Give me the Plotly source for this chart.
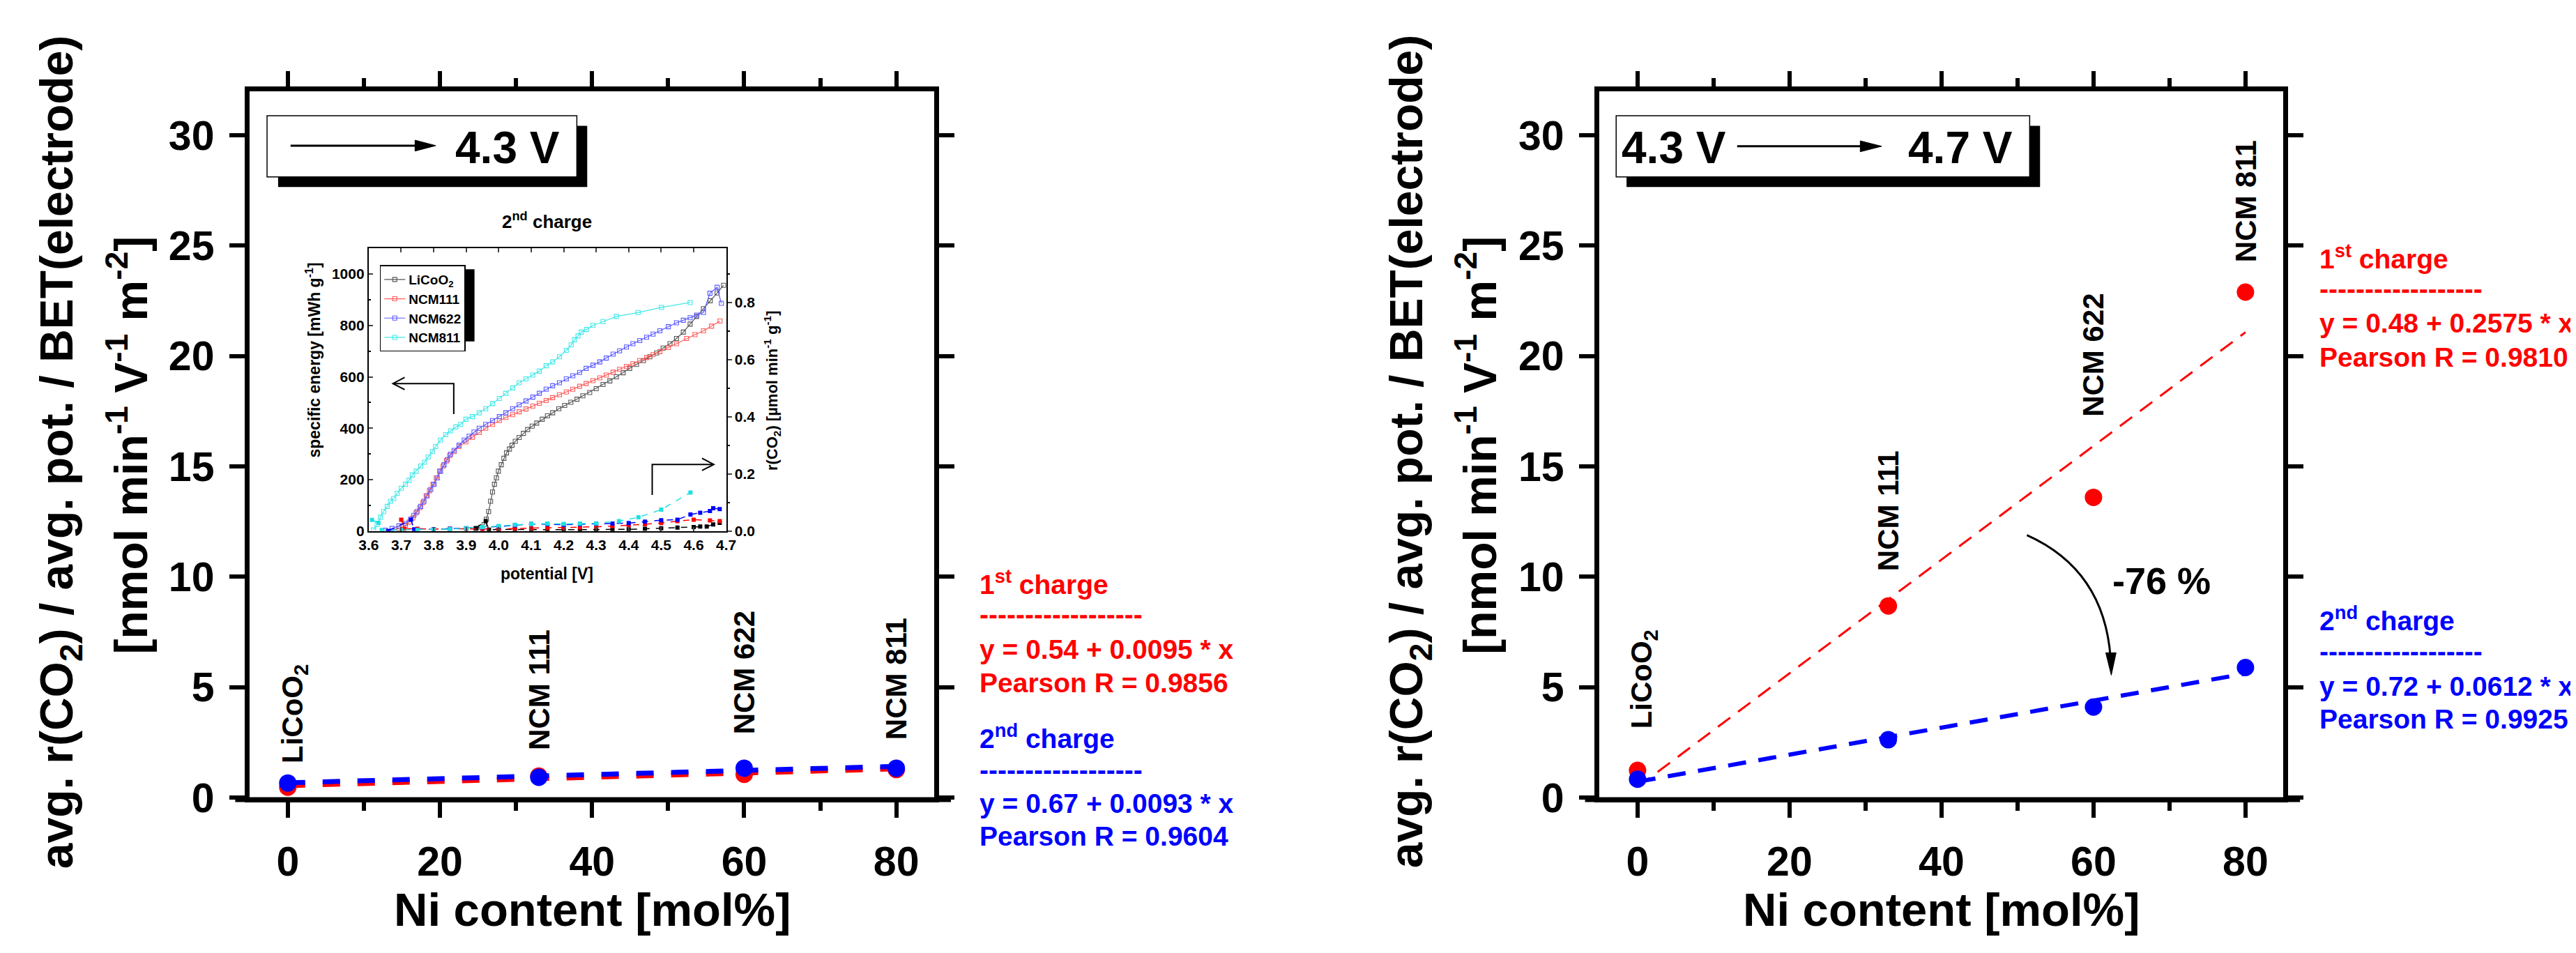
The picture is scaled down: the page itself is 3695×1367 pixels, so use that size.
import plotly.graph_objects as go

W, H = 3695, 1367
FONT = "Liberation Sans, Arial, sans-serif"

# ---------------- main data ----------------
ni_content = [0, 33, 60, 80]
material_labels = ["LiCoO<sub>2</sub>", "NCM 111", "NCM 622", "NCM 811"]

# panel A: OCV -> 4.3 V
a_first = [0.47, 0.97, 1.05, 1.27]
a_second = [0.66, 0.92, 1.33, 1.33]
a_fit_first = (0.54, 0.0095, 0.9856)
a_fit_second = (0.67, 0.0093, 0.9604)

# panel B: 4.3 V -> 4.7 V
b_first = [1.23, 8.68, 13.6, 22.9]
b_second = [0.83, 2.62, 4.10, 5.89]
b_fit_first = (0.48, 0.2575, 0.9810)
b_fit_second = (0.72, 0.0612, 0.9925)

fit_x = [0, 80]

# ---------------- inset data (2nd charge) ----------------
licoo2_V = [3.930, 3.945, 3.955, 3.962, 3.969, 3.975, 3.981, 3.987, 3.993, 3.999, 4.008, 4.016, 4.024,
            4.033, 4.041, 4.051, 4.063, 4.076, 4.089, 4.103, 4.117, 4.134, 4.150, 4.166, 4.185, 4.203,
            4.222, 4.241, 4.259, 4.280, 4.300, 4.321, 4.342, 4.362, 4.383, 4.403, 4.424, 4.445, 4.465,
            4.486, 4.506, 4.527, 4.547, 4.568, 4.589, 4.609, 4.630, 4.651, 4.672, 4.692]
licoo2_E = [10, 15, 25, 46, 76, 116, 152, 182, 207, 233, 258, 283, 304,
            319, 334, 349, 364, 380, 395, 408, 420, 435, 448, 460, 476, 489,
            501, 513, 526, 539, 554, 570, 584, 600, 616, 633, 648, 663, 678,
            693, 712, 729, 749, 774, 805, 835, 865, 896, 926, 956]

ncm111_V = [3.651, 3.693, 3.713, 3.725, 3.736, 3.746, 3.757, 3.767, 3.777, 3.787, 3.798, 3.808, 3.818,
            3.829, 3.839, 3.849, 3.863, 3.878, 3.899, 3.919, 3.940, 3.960, 3.981, 4.002, 4.022, 4.043,
            4.063, 4.084, 4.105, 4.125, 4.146, 4.166, 4.187, 4.208, 4.228, 4.249, 4.269, 4.290, 4.311,
            4.331, 4.352, 4.372, 4.393, 4.413, 4.434, 4.455, 4.475, 4.496, 4.522, 4.547, 4.578, 4.604,
            4.630, 4.655, 4.681]
ncm111_E = [3, 10, 20, 35, 51, 71, 91, 111, 137, 157, 182, 207, 233,
            253, 273, 294, 309, 329, 347, 365, 383, 400, 415, 430, 442, 453,
            464, 475, 486, 497, 508, 519, 530, 541, 552, 563, 574, 585, 596,
            607, 618, 629, 640, 651, 663, 675, 686, 698, 714, 729, 749, 764,
            779, 797, 817]

ncm622_V = [3.651, 3.672, 3.693, 3.713, 3.729, 3.739, 3.749, 3.760, 3.770, 3.780, 3.791, 3.801, 3.811,
            3.821, 3.832, 3.842, 3.852, 3.863, 3.878, 3.894, 3.909, 3.924, 3.940, 3.960, 3.981, 4.002,
            4.022, 4.043, 4.063, 4.084, 4.105, 4.125, 4.146, 4.166, 4.187, 4.208, 4.228, 4.249, 4.269,
            4.290, 4.311, 4.331, 4.352, 4.372, 4.393, 4.413, 4.434, 4.455, 4.475, 4.496, 4.522, 4.547,
            4.568, 4.589, 4.609, 4.630, 4.650, 4.672, 4.685]
ncm622_E = [3, 10, 20, 30, 46, 61, 76, 96, 116, 137, 162, 182, 207,
            233, 258, 278, 299, 314, 334, 354, 369, 385, 400, 415, 430, 445,
            460, 476, 491, 506, 521, 536, 552, 565, 577, 592, 604, 617, 633,
            645, 658, 673, 688, 701, 716, 729, 741, 754, 766, 779, 795, 810,
            820, 830, 840, 850, 925, 948, 886]

ncm811_V = [3.615, 3.626, 3.636, 3.646, 3.657, 3.667, 3.677, 3.688, 3.700, 3.713, 3.724, 3.734, 3.746,
            3.760, 3.772, 3.783, 3.796, 3.806, 3.821, 3.837, 3.852, 3.868, 3.883, 3.899, 3.919, 3.940,
            3.960, 3.981, 4.002, 4.022, 4.043, 4.063, 4.084, 4.105, 4.125, 4.146, 4.166, 4.187, 4.208,
            4.223, 4.233, 4.244, 4.254, 4.270, 4.290, 4.321, 4.362, 4.429, 4.501, 4.589]
ncm811_E = [5, 25, 54, 76, 96, 116, 127, 147, 167, 182, 197, 218, 233,
            253, 268, 288, 309, 329, 354, 375, 390, 405, 415, 435, 445, 460,
            476, 496, 516, 536, 557, 577, 592, 607, 622, 643, 658, 678, 703,
            724, 744, 759, 774, 784, 800, 815, 835, 850, 870, 889]

licoo2_rV = [3.93, 3.96, 3.97, 4.00, 4.05, 4.10, 4.15, 4.20, 4.25, 4.30, 4.35, 4.40, 4.45, 4.50, 4.55,
             4.60, 4.62, 4.64, 4.66, 4.68]
licoo2_r = [0.010, 0.035, 0.005, 0.006, 0.006, 0.005, 0.005, 0.004, 0.005, 0.005, 0.006, 0.006, 0.008,
            0.010, 0.012, 0.014, 0.016, 0.016, 0.023, 0.029]
ncm111_rV = [3.70, 3.71, 3.75, 3.80, 3.85, 3.90, 3.95, 4.00, 4.05, 4.10, 4.15, 4.20, 4.25, 4.30, 4.35,
             4.40, 4.45, 4.50, 4.55, 4.60, 4.65, 4.68]
ncm111_r = [0.040, 0.008, 0.008, 0.007, 0.008, 0.008, 0.007, 0.007, 0.009, 0.010, 0.011, 0.012, 0.013,
            0.015, 0.017, 0.020, 0.024, 0.028, 0.035, 0.040, 0.037, 0.035]
ncm622_rV = [3.66, 3.73, 3.74, 3.80, 3.85, 3.90, 3.95, 4.00, 4.05, 4.10, 4.15, 4.20, 4.25, 4.30, 4.35,
             4.40, 4.45, 4.50, 4.55, 4.59, 4.62, 4.65, 4.66, 4.68]
ncm622_r = [0.000, 0.040, 0.006, 0.006, 0.008, 0.010, 0.013, 0.016, 0.020, 0.025, 0.024, 0.022, 0.024,
            0.025, 0.026, 0.028, 0.033, 0.038, 0.040, 0.058, 0.064, 0.070, 0.080, 0.077]
ncm811_rV = [3.61, 3.63, 3.64, 3.70, 3.75, 3.80, 3.85, 3.90, 3.95, 4.00, 4.05, 4.10, 4.15, 4.20, 4.25,
             4.30, 4.37, 4.43, 4.50, 4.59]
ncm811_r = [0.039, 0.029, 0.003, 0.004, 0.004, 0.005, 0.007, 0.010, 0.014, 0.018, 0.022, 0.025, 0.026,
            0.025, 0.026, 0.027, 0.035, 0.048, 0.075, 0.135]

inset_series = [
    ("LiCoO<sub>2</sub>", licoo2_V, licoo2_E, licoo2_rV, licoo2_r, "#555555", "#000000"),
    ("NCM111", ncm111_V, ncm111_E, ncm111_rV, ncm111_r, "#ff5a5a", "#ff0000"),
    ("NCM622", ncm622_V, ncm622_E, ncm622_rV, ncm622_r, "#5a5aff", "#0000ff"),
    ("NCM811", ncm811_V, ncm811_E, ncm811_rV, ncm811_r, "#40e8e8", "#20e0e0"),
]

# ---------------- layout helpers ----------------
def px(x):
    return x / W


def py(y):
    return 1 - y / H


RED = "#ff0000"
BLUE = "#0000ff"

fig = go.Figure()

# ---- main panels ----
panels = [
    ("x", "y", a_first, a_second, a_fit_first, a_fit_second,
     dict(width=7, dash="25px,25px"), dict(width=7, dash="25px,25px")),
    ("x2", "y2", b_first, b_second, b_fit_first, b_fit_second,
     dict(width=3, dash="22px,14px"), dict(width=6, dash="26px,18px")),
]
for xa, ya, first, second, ff, fs, lr, lb in panels:
    fig.add_trace(go.Scatter(x=fit_x, y=[ff[0] + ff[1] * v for v in fit_x], mode="lines",
                             line=dict(color=RED, **lr),
                             xaxis=xa, yaxis=ya, showlegend=False))
    fig.add_trace(go.Scatter(x=ni_content, y=first, mode="markers",
                             marker=dict(color=RED, size=25, line=dict(width=0)),
                             xaxis=xa, yaxis=ya, showlegend=False))
    fig.add_trace(go.Scatter(x=ni_content, y=second, mode="markers",
                             marker=dict(color=BLUE, size=25, line=dict(width=0)),
                             xaxis=xa, yaxis=ya, showlegend=False))
    fig.add_trace(go.Scatter(x=fit_x, y=[fs[0] + fs[1] * v for v in fit_x], mode="lines",
                             line=dict(color=BLUE, **lb),
                             xaxis=xa, yaxis=ya, showlegend=False))

# ---- inset ----
for name, V, E, rV, r, c_e, c_r in inset_series:
    fig.add_trace(go.Scatter(x=V, y=E, mode="lines+markers", name=name,
                             line=dict(color=c_e, width=1.2),
                             marker=dict(symbol="square-open", size=6, color=c_e, line=dict(width=1.1)),
                             xaxis="x3", yaxis="y3", showlegend=True))
for name, V, E, rV, r, c_e, c_r in inset_series:
    fig.add_trace(go.Scatter(x=rV, y=r, mode="lines+markers", name=name,
                             line=dict(color=c_r, width=1.5, dash="dash"),
                             marker=dict(symbol="square", size=6, color=c_r),
                             xaxis="x3", yaxis="y4", showlegend=False))

y_dom = [py(1165), py(126)]
main_ax = dict(showline=True, linecolor="black", linewidth=7, mirror="allticks",
               ticks="outside", ticklen=22, tickwidth=6, tickcolor="black",
               showgrid=False, zeroline=False,
               tickfont=dict(family=FONT, size=59, color="black", weight="bold"))
xmain = dict(main_ax, range=[-5, 85], tick0=0, dtick=20, ticklabelstandoff=12,
             minor=dict(dtick=10, tick0=0, ticks="outside", ticklen=12, tickwidth=6, tickcolor="black"))
ymain = dict(main_ax, range=[0, 32], tick0=0, dtick=5, ticklabelstandoff=10)

inset_font = dict(family=FONT, size=21, color="black", weight="bold")
fig.update_layout(
    width=W, height=H, margin=dict(l=0, r=0, t=0, b=0),
    paper_bgcolor="white", plot_bgcolor="white",
    xaxis=dict(xmain, domain=[px(338), px(1328)], anchor="y"),
    yaxis=dict(ymain, domain=y_dom, anchor="x"),
    xaxis2=dict(xmain, domain=[px(2290), px(3279)], anchor="y2"),
    yaxis2=dict(ymain, domain=y_dom, anchor="x2"),
    xaxis3=dict(domain=[px(510), px(1027)], anchor="y3", range=[3.6, 4.7], tick0=3.6, dtick=0.1,
                tickformat=".1f", showline=True, linecolor="black", linewidth=2, mirror="ticks",
                ticks="inside", ticklen=6, tickwidth=1.5, showgrid=False, zeroline=False,
                tickfont=inset_font),
    yaxis3=dict(domain=[py(773), py(357)], anchor="x3", range=[0, 1100], tick0=0, dtick=200,
                showline=True, linecolor="black", linewidth=2, ticks="inside", ticklen=6,
                tickwidth=1.5, showgrid=False, zeroline=False, tickfont=inset_font,
                minor=dict(dtick=100, ticks="inside", ticklen=3, tickcolor="black")),
    yaxis4=dict(overlaying="y3", side="right", anchor="x3", range=[0, 0.99], tick0=0, dtick=0.2,
                tickformat=".1f", showline=True, linecolor="black", linewidth=2, ticks="outside",
                ticklen=6, tickwidth=1.5, showgrid=False, zeroline=False, tickfont=inset_font,
                minor=dict(dtick=0.1, ticks="outside", ticklen=3, tickcolor="black")),
    legend=dict(x=px(526), y=py(382), xanchor="left", yanchor="top", bgcolor="white",
                bordercolor="black", borderwidth=1.5, tracegroupgap=0, itemwidth=30,
                font=dict(family=FONT, size=19, color="black", weight="bold")),
)

ann = []


def text(x, y, s, size, color="black", xanchor="center", yanchor="middle", angle=0,
         xref="paper", yref="paper", xshift=0):
    ann.append(dict(x=x, y=y, xref=xref, yref=yref, text=s, showarrow=False, textangle=angle,
                    xanchor=xanchor, yanchor=yanchor, xshift=xshift,
                    font=dict(family=FONT, size=size, color=color, weight="bold")))


# y-axis titles
for c1, c2 in [(63, 161), (2015, 2112)]:
    text(px(c1), py(656), "avg. r(CO<sub>2</sub>) / avg. pot. / BET(electrode)", 66, angle=-90)
    text(px(c2), py(647), "[nmol min<sup>-1</sup> V<sup>-1</sup> m<sup>-2</sup>]", 66, angle=-90)
# x-axis titles
for cx in [833, 2784]:
    text(px(cx), py(1330), "Ni content [mol%]", 67)

# material labels
label_bottom_a = [1.48, 2.1, 2.8, 2.56]
label_bottom_b = [3.05, 10.2, 17.2, 24.2]
label_shift = [9, 0, 0, 0]
for xr, yr, bottoms in [("x", "y", label_bottom_a), ("x2", "y2", label_bottom_b)]:
    for xv, lab, yb, sh in zip(ni_content, material_labels, bottoms, label_shift):
        text(xv, yb, lab, 42, xanchor="center", yanchor="bottom", angle=-90, xref=xr, yref=yr,
             xshift=sh)


# fit result texts
def fit_block(x0, ys, ordinal, fit, color):
    text(px(x0), py(ys[0]), ordinal + " charge", 39, color, xanchor="left")
    text(px(x0), py(ys[1]), "-" * 18, 39, color, xanchor="left")
    text(px(x0), py(ys[2]), f"y = {fit[0]:.2f} + {fit[1]:g} * x", 39, color, xanchor="left")
    text(px(x0), py(ys[3]), f"Pearson R = {fit[2]:.4f}", 39, color, xanchor="left")


fit_block(1391, [849, 896, 947, 996], "1<sup>st</sup>", a_fit_first, RED)
fit_block(1391, [1075, 1124, 1174, 1222], "2<sup>nd</sup>", a_fit_second, BLUE)
fit_block(3329, [370, 417, 467, 517], "1<sup>st</sup>", b_fit_first, RED)
fit_block(3329, [902, 950, 1001, 1050], "2<sup>nd</sup>", b_fit_second, BLUE)

# boxes with voltage windows
text(px(711), py(209), "4.3 V", 64)
text(px(2397), py(209), "4.3 V", 64)
text(px(2812), py(209), "4.7 V", 64)
text(px(3103), py(846), "-76 %", 54)

# inset texts
text(px(768), py(316), "2<sup>nd</sup> charge", 26)
text(px(768), py(836), "potential [V]", 23)
text(px(430), py(522), "specific energy [mWh g<sup>-1</sup>]", 23, angle=-90)
text(px(1094), py(566), "r(CO<sub>2</sub>) [µmol min<sup>-1</sup> g<sup>-1</sup>]", 22, angle=-90)

fig.update_layout(annotations=ann)

shapes = []


def rect(x0, y0, x1, y1, fill, line_w=0, line_c="black"):
    shapes.append(dict(type="rect", xref="paper", yref="paper", x0=px(x0), x1=px(x1),
                       y0=py(y0), y1=py(y1), fillcolor=fill,
                       line=dict(width=line_w, color=line_c), layer="above"))


def line(x0, y0, x1, y1, w=3):
    shapes.append(dict(type="line", xref="paper", yref="paper", x0=px(x0), x1=px(x1),
                       y0=py(y0), y1=py(y1), line=dict(color="black", width=w), layer="above"))


def path(pts, closed=False, fill=None, w=3):
    d = "M " + " L ".join(f"{px(a):.6f},{py(b):.6f}" for a, b in pts)
    if closed:
        d += " Z"
    shapes.append(dict(type="path", xref="paper", yref="paper", path=d,
                       fillcolor=fill if fill else "rgba(0,0,0,0)",
                       line=dict(color="black", width=w), layer="above"))


# bottom axis lines extend beyond the frame (Origin style)
line(317, 1168, 1352, 1168, 7)
line(2269, 1168, 3303, 1168, 7)

# left box
rect(379, 177, 826, 267, "black")
rect(363, 162, 811, 252, "white", 1.5)
line(397, 206, 585, 206, 3)
path([(577, 198), (607, 206), (577, 214)], closed=True, fill="black", w=1)
# right box
rect(2329, 177, 2927, 267, "black")
rect(2314, 162, 2912, 252, "white", 1.5)
line(2489, 207, 2676, 207, 3)
path([(2667, 199), (2698, 207), (2667, 215)], closed=True, fill="black", w=1)

# inset legend shadow
rect(532, 388, 663, 494, "black")

# inset arrows
path([(633, 601), (633, 556), (546, 556)], w=2)
path([(562, 547), (545, 556), (562, 565)], w=2)
path([(920, 720), (920, 675), (1008, 675)], w=2)
path([(992, 666), (1009, 675), (992, 684)], w=2)

# curved arrow (-76 %)
p0, p1, p2 = (2908, 779), (3020, 830), (3029, 960)
shapes.append(dict(type="path", xref="paper", yref="paper",
                   path=f"M {px(p0[0]):.6f},{py(p0[1]):.6f} Q {px(p1[0]):.6f},{py(p1[1]):.6f} "
                        f"{px(p2[0]):.6f},{py(p2[1]):.6f}",
                   line=dict(color="black", width=3), layer="above"))
path([(3022, 952), (3037, 952), (3030, 985)], closed=True, fill="black", w=1)

fig.update_layout(shapes=shapes)

fig.write_html("out.html")
